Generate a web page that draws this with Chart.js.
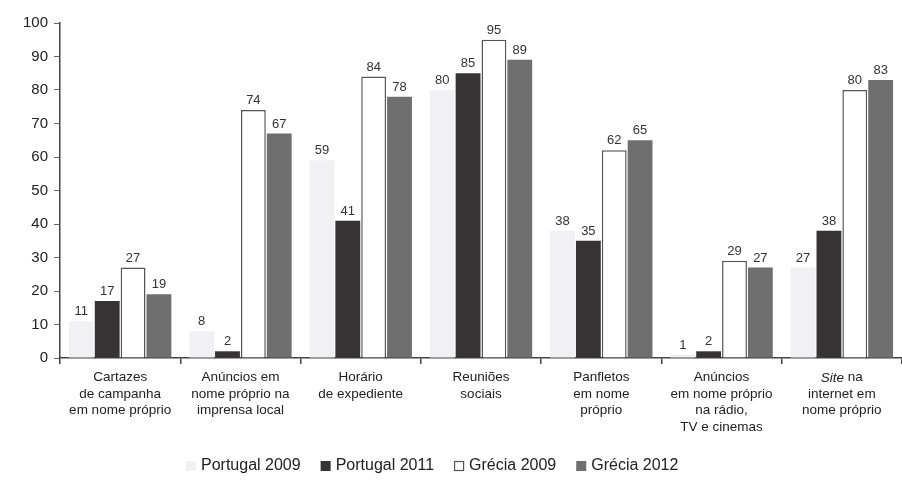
<!DOCTYPE html>
<html>
<head>
<meta charset="utf-8">
<script src="https://cdn.jsdelivr.net/npm/chart.js@4.4.0/dist/chart.umd.min.js"></script>
<style>
  html, body { margin: 0; padding: 0; background: #fff; }
  #wrap { width: 902px; height: 482px; }
</style>
</head>
<body>
<div id="wrap"><canvas id="myChart"></canvas></div>
<script>
var categories = [
    ["Cartazes", "de campanha", "em nome próprio"],
    ["Anúncios em", "nome próprio na", "imprensa local"],
    ["Horário", "de expediente"],
    ["Reuniões", "sociais"],
    ["Panfletos", "em nome", "próprio"],
    ["Anúncios", "em nome próprio", "na rádio,", "TV e cinemas"],
    ["Site na", "internet em", "nome próprio"]
];
var portugal2009 = [11, 8, 59, 80, 38, 1, 27];
var portugal2011 = [17, 2, 41, 85, 35, 2, 38];
var grecia2009 = [27, 74, 84, 95, 62, 29, 80];
var grecia2012 = [19, 67, 78, 89, 65, 27, 83];
var yTicks = [0, 10, 20, 30, 40, 50, 60, 70, 80, 90, 100];

var FONT = "'Liberation Sans', Arial, sans-serif";

// value labels above every bar
var valueLabels = {
    id: 'valueLabels',
    afterDatasetsDraw: function (chart) {
        var c = chart.ctx;
        c.save();
        c.font = "13px " + FONT;
        c.fillStyle = "#333";
        c.textAlign = "center";
        c.textBaseline = "bottom";
        chart.data.datasets.forEach(function (ds, i) {
            chart.getDatasetMeta(i).data.forEach(function (bar, j) {
                c.fillText(ds.data[j], bar.x, bar.y - 3);
            });
        });
        c.restore();
    }
};

// category labels drawn by hand so "Site" can be italic
var catLabels = {
    id: 'catLabels',
    afterDraw: function (chart) {
        var c = chart.ctx;
        var xs = chart.scales.x;
        var top = chart.chartArea.bottom + 13;
        c.save();
        c.fillStyle = "#222";
        c.textBaseline = "top";
        categories.forEach(function (lines, i) {
            var x = xs.getPixelForValue(i);
            lines.forEach(function (line, k) {
                var y = top + k * 16.5;
                if (line.indexOf("Site") === 0) {
                    c.font = "italic 13.5px " + FONT;
                    var w1 = c.measureText("Site").width;
                    c.font = "13.5px " + FONT;
                    var w2 = c.measureText(" na").width;
                    var x0 = x - (w1 + w2) / 2;
                    c.textAlign = "left";
                    c.font = "italic 13.5px " + FONT;
                    c.fillText("Site", x0, y);
                    c.font = "13.5px " + FONT;
                    c.fillText(" na", x0 + w1, y);
                } else {
                    c.font = "13.5px " + FONT;
                    c.textAlign = "center";
                    c.fillText(line, x, y);
                }
            });
        });
        c.restore();
    }
};

// legend drawn by hand, it sits a bit left of centre in the original
var bottomLegend = {
    id: 'bottomLegend',
    afterDraw: function (chart) {
        var c = chart.ctx;
        var x = 186, y = 466, box = 10;
        c.save();
        c.font = "16px " + FONT;
        c.textBaseline = "middle";
        c.textAlign = "left";
        chart.data.datasets.forEach(function (ds) {
            c.fillStyle = ds.backgroundColor;
            c.fillRect(x, y - box / 2, box, box);
            if (ds.borderWidth) {
                c.strokeStyle = ds.borderColor;
                c.lineWidth = 1.2;
                c.strokeRect(x + 0.5, y - box / 2 + 0.5, box - 1, box - 1);
            }
            x += box + 5;
            c.fillStyle = "#222";
            c.fillText(ds.label, x, y);
            x += c.measureText(ds.label).width + 20;
        });
        c.restore();
    }
};

var ctx = document.getElementById("myChart");
var myBarChart = new Chart(ctx, {
    type: 'bar',
    data: {
        labels: categories,
        datasets: [
            {
                label: "Portugal 2009",
                data: portugal2009,
                backgroundColor: "#f1f1f4",
                borderWidth: 0
            },
            {
                label: "Portugal 2011",
                data: portugal2011,
                backgroundColor: "#353334",
                borderColor: "#353334",
                borderWidth: 0
            },
            {
                label: "Grécia 2009",
                data: grecia2009,
                backgroundColor: "#ffffff",
                borderColor: "#555",
                borderWidth: 1.5
            },
            {
                label: "Grécia 2012",
                data: grecia2012,
                backgroundColor: "#6f6f6f",
                borderWidth: 0
            }
        ]
    },
    options: {
        responsive: true,
        maintainAspectRatio: false,
        animation: false,
        layout: { padding: { top: 23, right: 0, bottom: 38, left: 0 } },
        datasets: {
            bar: { categoryPercentage: 0.86, barPercentage: 0.96 }
        },
        plugins: {
            tooltip: { enabled: false },
            legend: { display: false }
        },
        scales: {
            x: {
                offset: true,
                border: { display: true, color: "#444", width: 1.5 },
                grid: {
                    offset: true,
                    drawOnChartArea: false,
                    drawTicks: true,
                    tickLength: 6,
                    color: "#444",
                    lineWidth: 1.5
                },
                ticks: {
                    color: "rgba(0,0,0,0)",
                    font: { family: FONT, size: 13.5 },
                    maxRotation: 0,
                    autoSkip: false
                },
                afterFit: function (scale) { scale.height = 86; }
            },
            y: {
                min: 0,
                max: 100,
                afterBuildTicks: function (scale) {
                    scale.ticks = yTicks.map(function (v) { return { value: v }; });
                },
                border: { display: true, color: "#444", width: 1.5 },
                grid: {
                    drawOnChartArea: false,
                    drawTicks: true,
                    tickLength: 6,
                    color: "#666",
                    lineWidth: 1
                },
                ticks: {
                    color: "#222",
                    font: { family: FONT, size: 15 },
                    padding: 6
                },
                afterFit: function (scale) { scale.width = 60; }
            }
        }
    },
    plugins: [valueLabels, catLabels, bottomLegend]
});
</script>
</body>
</html>
